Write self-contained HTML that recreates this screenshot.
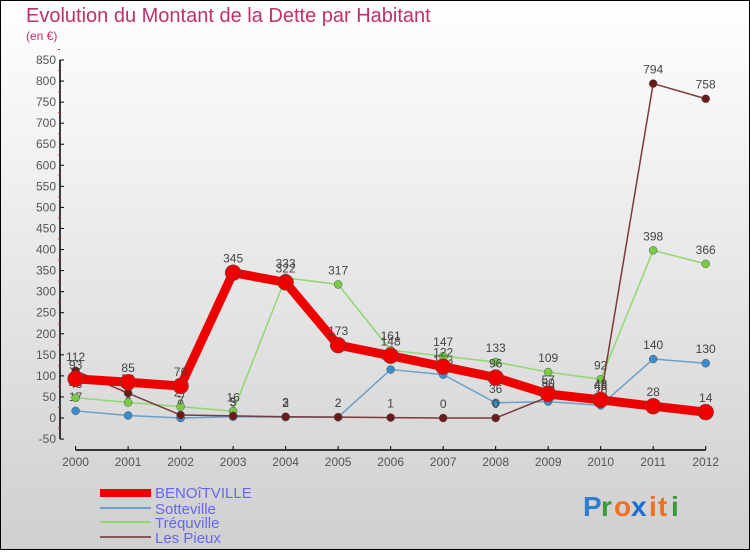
<!DOCTYPE html>
<html><head><meta charset="utf-8"><style>
body{margin:0}
svg text{font-family:"Liberation Sans",sans-serif}
</style></head><body>
<svg width="750" height="550" viewBox="0 0 750 550" xmlns="http://www.w3.org/2000/svg">
<defs><linearGradient id="bg" x1="0" y1="0" x2="0" y2="1"><stop offset="0" stop-color="#ffffff"/><stop offset="1" stop-color="#cfcfcf"/></linearGradient></defs>
<rect x="0.5" y="0.5" width="749" height="549" fill="url(#bg)" stroke="#000"/>
<text x="26" y="22" font-size="20" fill="#c0306a">Evolution du Montant de la Dette par Habitant</text>
<text x="26" y="40" font-size="12" fill="#c0306a">(en €)</text>
<g id="axes"></g>
<g id="series"></g>
<g id="legend">
<rect x="100" y="489" width="51" height="8" fill="#e00"/>
<text x="155" y="498" font-size="15" fill="#6666ee">BENOîTVILLE</text>
<line x1="100" y1="508" x2="151" y2="508" stroke="#6aa0cc" stroke-width="2"/>
<text x="155" y="514" font-size="15" fill="#6666ee">Sotteville</text>
<line x1="100" y1="522" x2="151" y2="522" stroke="#8fd870" stroke-width="2"/>
<text x="155" y="528" font-size="15" fill="#6666ee">Tréquville</text>
<line x1="100" y1="537" x2="151" y2="537" stroke="#8a5555" stroke-width="2"/>
<text x="155" y="543" font-size="15" fill="#6666ee">Les Pieux</text>
</g>
<g font-size="28" font-weight="bold">
<text x="583" y="516" fill="#2a7fd0">P</text><text x="601" y="516" fill="#3a9a3a">r</text><text x="614" y="516" fill="#f07020">o</text><text x="631" y="516" fill="#1a6fd0">x</text><text x="649" y="516" fill="#f07020">i</text><text x="658" y="516" fill="#f07020">t</text><text x="671" y="516" fill="#3a9a3a">i</text>
</g>
</svg>
<script>
const years=["2000","2001","2002","2003","2004","2005","2006","2007","2008","2009","2010","2011","2012"];
const yTicks=[-50,0,50,100,150,200,250,300,350,400,450,500,550,600,650,700,750,800,850];
const benoitville=[93,85,76,345,322,173,148,122,96,57,43,28,14];
const sotteville=[17,6,0,3,2,2,115,103,36,39,30,140,130];
const trequville=[48,37,27,16,333,317,161,147,133,109,92,398,366];
const lesPieux=[112,59,7,5,3,2,1,0,0,50,48,794,758];
const NS="http://www.w3.org/2000/svg";
function xS(i){return 75.6+i*(705.7-75.6)/12;}
function yS(v){return 418-v*(358/850);}
function mk(tag,attrs,parent){const e=document.createElementNS(NS,tag);for(const k in attrs)e.setAttribute(k,attrs[k]);parent.appendChild(e);return e;}
const ax=document.getElementById('axes');
let l=mk('line',{x1:60,y1:yS(850),x2:60,y2:yS(-50),stroke:'#000','stroke-width':1.5},ax);


yTicks.forEach(v=>{
 const y=yS(v);
 mk('line',{x1:60,y1:y,x2:64,y2:y,stroke:'#000'},ax);
 mk('line',{x1:58,y1:y-10.5,x2:60,y2:y-10.5,stroke:'#e33'},ax);
 const t=mk('text',{x:56,y:y+4,'font-size':12,fill:'#555','text-anchor':'end'},ax);
 t.textContent=v;
 
 
});
l=mk('line',{x1:75.6,y1:450,x2:705.7,y2:450,stroke:'#000','stroke-width':1.5},ax);


years.forEach((yr,i)=>{
 mk('line',{x1:xS(i),y1:446,x2:xS(i),y2:450,stroke:'#000'},ax);
 const t=mk('text',{x:xS(i),y:466,'font-size':12,fill:'#555','text-anchor':'middle'},ax);
 t.textContent=yr;
 
 
});
const sg=document.getElementById('series');
function draw(data,name,color,w,r,dot){
 const g=mk('g',{},sg);
 
 
 const pts=data.map((v,i)=>xS(i)+','+yS(v)).join(' ');
 const pl=mk('polyline',{points:pts,fill:'none',stroke:color,'stroke-width':w,'stroke-linejoin':'round'},g);
 
 
 data.forEach((v,i)=>{
  const c=mk('circle',{cx:xS(i),cy:yS(v),r:r,fill:dot,stroke:'#555','stroke-width':0.5},g);
  
  
  const t=mk('text',{x:xS(i),y:yS(v)-10,'font-size':12,fill:'#444','text-anchor':'middle'},g);
  t.textContent=v;
  
  
 });
}
draw(sotteville,'sotteville','#6aa0cc',1.5,4,'#3a8ccc');
draw(trequville,'trequville','#8fd870',1.5,4,'#77cc44');
draw(lesPieux,'les-pieux','#7a3a3a',1.5,4,'#6a1a1a');
draw(benoitville,'benoitville','#ee0000',9,8,'#ee0000');
</script>
</body></html>
